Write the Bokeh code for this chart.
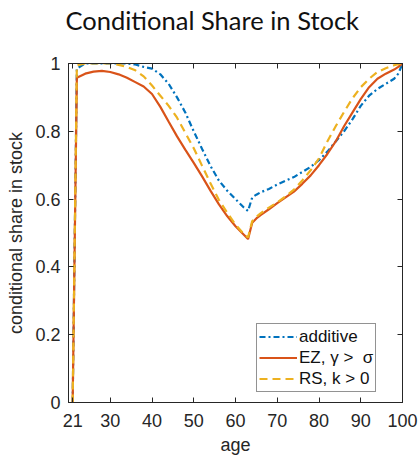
from bokeh.plotting import figure
from bokeh.models import LinearAxis, FixedTicker, Range1d, Legend, LegendItem
from bokeh.embed import file_html
from bokeh.resources import INLINE

ages = [21, 22, 24, 26, 28, 30, 32, 34, 36, 38, 40, 42, 44, 46, 48, 50, 52, 54, 56, 58,
        60, 62, 63, 64, 65, 66, 68, 70, 72, 74, 76, 78, 80, 82, 84, 86, 88, 90, 92, 94,
        96, 98, 99, 100]

additive = [0.0, 0.985, 1.0, 1.0, 1.0, 1.0, 1.0, 1.0, 0.997, 0.99, 0.985, 0.968, 0.94, 0.9, 0.855, 0.8,
            0.748, 0.698, 0.655, 0.625, 0.6, 0.575, 0.565, 0.605, 0.613, 0.62, 0.63, 0.643, 0.654, 0.665,
            0.68, 0.695, 0.715, 0.74, 0.77, 0.8, 0.835, 0.875, 0.905, 0.925, 0.94, 0.955, 0.97, 1.0]

ez = [0.0, 0.958, 0.97, 0.976, 0.978, 0.975, 0.968, 0.958, 0.945, 0.932, 0.91, 0.872, 0.828, 0.785, 0.745, 0.707,
      0.667, 0.625, 0.585, 0.55, 0.52, 0.495, 0.482, 0.53, 0.543, 0.553, 0.57, 0.588, 0.605, 0.622,
      0.645, 0.67, 0.7, 0.733, 0.77, 0.815, 0.855, 0.895, 0.93, 0.955, 0.97, 0.982, 0.99, 1.0]

rs = [0.0, 0.995, 1.0, 1.0, 1.0, 1.0, 0.996, 0.99, 0.98, 0.962, 0.935, 0.905, 0.875, 0.84, 0.795, 0.75,
      0.698, 0.647, 0.598, 0.56, 0.525, 0.497, 0.487, 0.535, 0.548, 0.558, 0.575, 0.59, 0.608, 0.628,
      0.655, 0.685, 0.72, 0.77, 0.815, 0.857, 0.897, 0.93, 0.955, 0.975, 0.986, 0.995, 0.998, 1.0]

x_ticks = [21, 30, 40, 50, 60, 70, 80, 90, 100]
y_ticks = [0, 0.2, 0.4, 0.6, 0.8, 1.0]
y_tick_labels = {0: "0", 0.2: "0.2", 0.4: "0.4", 0.6: "0.6", 0.8: "0.8", 1.0: "1"}

AX = "#262626"
FONT = "Liberation Sans"

p = figure(width=418, height=457, output_backend="svg", toolbar_location=None,
           x_range=Range1d(20, 100), y_range=Range1d(0, 1),
           min_border_left=68, min_border_right=16, min_border_top=63, min_border_bottom=52,
           title="Conditional Share in Stock")
p.title.align = "left"
p.title.offset = -3
p.title.text_font = "Lato"
p.title.text_font_size = "25.5px"
p.title.text_font_style = "normal"
p.title.text_color = "#111111"
p.title.standoff = 2

p.grid.visible = False
p.outline_line_color = AX
p.outline_line_width = 1
p.background_fill_color = "white"
p.border_fill_color = "white"

for ax in (p.xaxis[0], p.yaxis[0]):
    ax.major_tick_in = 5
    ax.major_tick_out = 0
    ax.minor_tick_in = 0
    ax.minor_tick_out = 0
    ax.axis_line_color = AX
    ax.major_tick_line_color = AX
    ax.major_label_text_font = FONT
    ax.major_label_text_font_size = "18px"
    ax.major_label_text_color = AX
    ax.major_label_text_line_height = 1.0
    ax.axis_label_text_font = FONT
    ax.axis_label_text_font_size = "18px"
    ax.axis_label_text_font_style = "normal"
    ax.axis_label_text_color = AX
    ax.axis_label_text_line_height = 1.0

p.xaxis[0].ticker = FixedTicker(ticks=x_ticks)
p.yaxis[0].ticker = FixedTicker(ticks=y_ticks)
p.yaxis[0].major_label_overrides = y_tick_labels
p.xaxis[0].axis_label = "age"
p.yaxis[0].axis_label = "conditional share in stock"
p.xaxis[0].major_label_standoff = 11
p.yaxis[0].major_label_standoff = 8
p.xaxis[0].axis_label_standoff = 5
p.yaxis[0].axis_label_standoff = 6

# inner ticks on top and right sides of the box
top = LinearAxis(ticker=FixedTicker(ticks=x_ticks))
top.major_label_overrides = {t: "" for t in x_ticks}
right = LinearAxis(ticker=FixedTicker(ticks=y_ticks))
right.major_label_overrides = {t: "" for t in y_ticks}
for ax in (top, right):
    ax.major_tick_in = 5
    ax.major_tick_out = 0
    ax.minor_tick_in = 0
    ax.minor_tick_out = 0
    ax.major_label_standoff = 0
    ax.axis_line_color = AX
    ax.major_tick_line_color = AX
p.add_layout(top, "above")
p.add_layout(right, "right")

# invisible spacer axis to lift the title above the box
spacer = LinearAxis(ticker=FixedTicker(ticks=x_ticks))
spacer.major_label_overrides = {t: "" for t in x_ticks}
spacer.major_tick_in = 0
spacer.major_tick_out = 28
spacer.minor_tick_in = 0
spacer.minor_tick_out = 0
spacer.major_label_standoff = 0
spacer.major_tick_line_alpha = 0
spacer.axis_line_alpha = 0
p.add_layout(spacer, "above")

r1 = p.line(ages, additive, line_color="#0072BD", line_width=2.2, line_dash="6 3 2 3")
r2 = p.line(ages, ez, line_color="#D95319", line_width=2.2)
r3 = p.line(ages, rs, line_color="#EDB120", line_width=2.2, line_dash="8 5")

legend = Legend(items=[LegendItem(label="additive", renderers=[r1]),
                       LegendItem(label="EZ, γ >  σ", renderers=[r2]),
                       LegendItem(label="RS, k > 0", renderers=[r3])],
                location=(188, 10))
legend.label_text_font = FONT
legend.label_text_font_size = "17px"
legend.label_text_line_height = 1.0
legend.label_text_color = "#111111"
legend.border_line_color = AX
legend.border_line_width = 1
legend.glyph_width = 38
legend.glyph_height = 21
legend.label_height = 21
legend.spacing = 0
legend.padding = 2
legend.margin = 0
legend.label_standoff = 2
p.add_layout(legend)

open("out.html", "w").write(file_html(p, INLINE))
